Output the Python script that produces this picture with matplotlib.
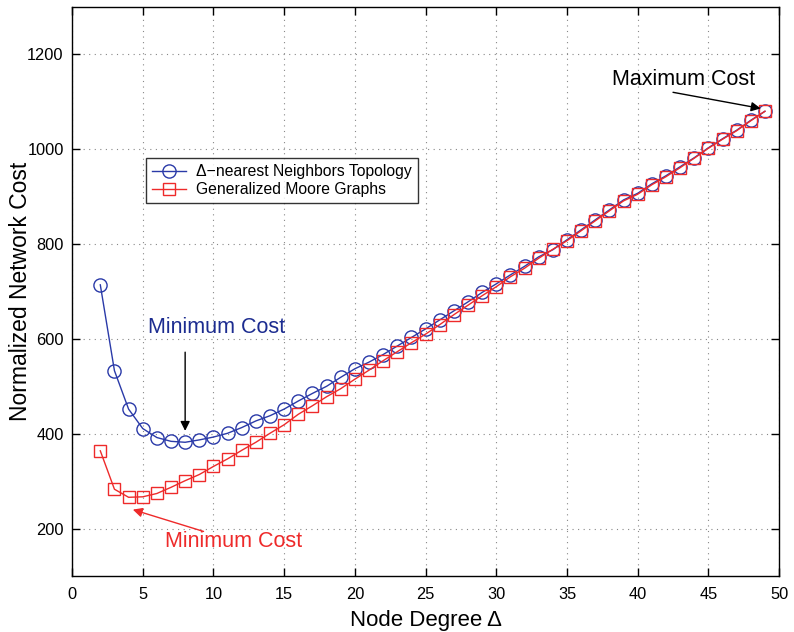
import matplotlib
matplotlib.use("Agg")
import matplotlib.pyplot as plt
import numpy as np

plt.rcParams['font.family'] = ['Liberation Sans', 'DejaVu Sans']

degree = list(range(2, 50))
nearest_cost = [714, 533, 452, 411, 392, 384, 382, 387, 393, 401, 413, 427, 438, 452,
                469, 485, 500, 519, 537, 551, 567, 585, 603, 621, 640, 659, 678, 698,
                716, 735, 753, 773, 788, 809, 830, 851, 872, 893, 907, 927, 944, 963,
                982, 1003, 1022, 1040, 1061, 1080]
moore_cost = [364, 283, 266, 267, 274, 287, 301, 314, 331, 347, 365, 382, 401, 419,
              441, 459, 478, 495, 515, 534, 554, 573, 592, 610, 630, 651, 671, 691,
              710, 731, 749, 770, 789, 807, 828, 849, 870, 891, 905, 925, 942, 961,
              981, 1002, 1021, 1039, 1060, 1080]

x_ticks = [0, 5, 10, 15, 20, 25, 30, 35, 40, 45, 50]
y_ticks = [200, 400, 600, 800, 1000, 1200]

blue = '#2a3aa8'
red = '#ee2a2a'

fig = plt.figure(figsize=(7.94, 6.32), dpi=100)
ax = fig.add_axes([0.0907, 0.0886, 0.8905, 0.9004])

ax.plot(degree, nearest_cost, color=blue, marker='o', markersize=9.5,
        markerfacecolor='none', markeredgecolor=blue, linewidth=1.0,
        markeredgewidth=1.0, label='\u0394\u2212nearest Neighbors Topology')
ax.plot(degree, moore_cost, color=red, marker='s', markersize=8,
        markerfacecolor='none', markeredgecolor=red, linewidth=1.0,
        markeredgewidth=1.0, label='Generalized Moore Graphs')

ax.set_xlim(0, 50)
ax.set_ylim(100, 1300)
ax.set_xticks(x_ticks)
ax.set_yticks(y_ticks)
ax.tick_params(direction='in', top=True, right=True, length=6, labelsize=11.8,
               width=1.0)
ax.tick_params(axis='x', pad=8)
ax.tick_params(axis='y', pad=6)
ax.grid(True, linestyle=(0, (1, 4)), color='#888888', linewidth=0.8)
for s in ax.spines.values():
    s.set_linewidth(1.0)

ax.set_xlabel('Node Degree \u0394', fontsize=16, labelpad=6)
ax.set_ylabel('Normalized Network Cost', fontsize=16.5)
ax.yaxis.set_label_coords(-0.057, 0.5)

leg = ax.legend(loc='upper left', bbox_to_anchor=(0.104, 0.735), fontsize=11.3,
                frameon=True, fancybox=False, edgecolor='black',
                borderpad=0.4, handlelength=2.2, labelspacing=0.2,
                handletextpad=0.6, borderaxespad=0)
leg.get_frame().set_linewidth(1.0)

ax.text(5.35, 623, 'Minimum Cost', color='#1c2c90', fontsize=15.5,
        ha='left', va='center')
ax.annotate('', xy=(8, 406), xytext=(8, 572),
            arrowprops=dict(arrowstyle='-|>', color='black', lw=1.0,
                            mutation_scale=14, shrinkA=0, shrinkB=0))

ax.text(6.55, 173, 'Minimum Cost', color=red, fontsize=15.5,
        ha='left', va='center')
ax.annotate('', xy=(4.3, 240), xytext=(9.3, 194),
            arrowprops=dict(arrowstyle='-|>', color=red, lw=1.0,
                            mutation_scale=14, shrinkA=0, shrinkB=0))

ax.text(38.2, 1148, 'Maximum Cost', color='black', fontsize=15.5,
        ha='left', va='center')
ax.annotate('', xy=(48.7, 1086), xytext=(42.5, 1120),
            arrowprops=dict(arrowstyle='-|>', color='black', lw=1.0,
                            mutation_scale=14, shrinkA=0, shrinkB=0))

fig.savefig('out.png', dpi=100)
